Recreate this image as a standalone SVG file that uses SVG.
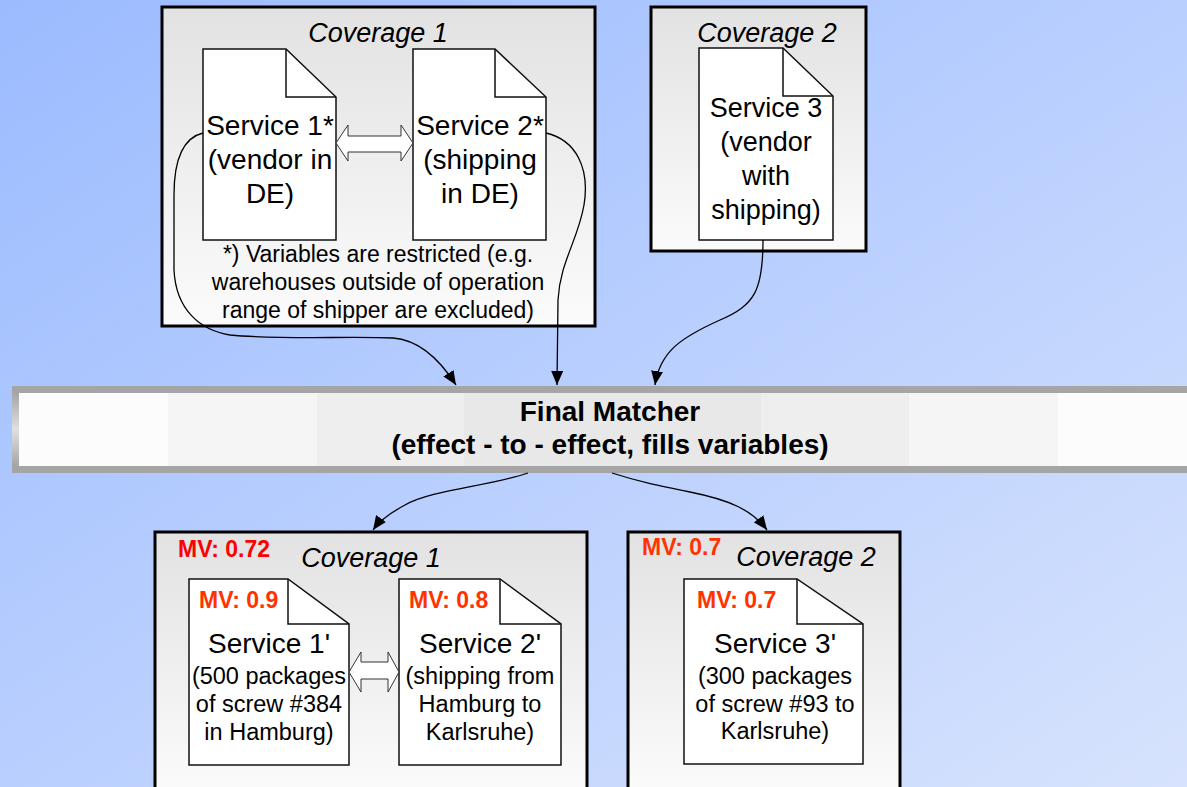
<svg xmlns="http://www.w3.org/2000/svg" width="1187" height="787" viewBox="0 0 1187 787">
<defs>
<linearGradient id="bg" x1="0" y1="0" x2="1" y2="1">
<stop offset="0" stop-color="#9bbbff"/>
<stop offset="1" stop-color="#d7e3fd"/>
</linearGradient>
<linearGradient id="box" x1="0" y1="0" x2="0" y2="1">
<stop offset="0" stop-color="#e2e2e2"/>
<stop offset="1" stop-color="#fbfbfb"/>
</linearGradient>
<linearGradient id="boxb" x1="0" y1="0" x2="0" y2="1">
<stop offset="0" stop-color="#e2e2e2"/>
<stop offset="1" stop-color="#fcfcfc"/>
</linearGradient>
<linearGradient id="edge" x1="0" y1="0" x2="0" y2="1">
<stop offset="0" stop-color="#a5a5a5"/>
<stop offset="0.5" stop-color="#e0e0e0"/>
<stop offset="1" stop-color="#a5a5a5"/>
</linearGradient>
<marker id="ahb" viewBox="0 0 14 12" refX="14" refY="6" markerWidth="14" markerHeight="12" markerUnits="userSpaceOnUse" orient="auto">
<path d="M0,0 L14,6 L0,12 z" fill="#000"/>
</marker>
</defs>
<style>
text{font-family:"Liberation Sans",Arial,sans-serif;fill:#000}
.cov{fill:url(#box);stroke:#000;stroke-width:3}
.covb{fill:url(#boxb);stroke:#000;stroke-width:3}
.doc{fill:#fff;stroke:#111;stroke-width:1.5}
.fold{fill:none;stroke:#111;stroke-width:1.5}
.title{font-size:27px;font-style:italic;text-anchor:middle}
.svc{font-size:27px;text-anchor:middle}
.svcw{font-size:28px;text-anchor:middle}
.svc2{font-size:28px;text-anchor:middle}
.det{font-size:23.5px;text-anchor:middle}
.note{font-size:23px;text-anchor:middle}
.mv{font-size:23px;font-weight:bold;fill:#ff3300}
.mvr{font-size:23px;font-weight:bold;fill:#ff0000}
.mt{font-size:28px;font-weight:bold;text-anchor:middle}
.con{fill:none;stroke:#000;stroke-width:1.3}
.dbl{fill:#fff;stroke:#333;stroke-width:1}
</style>
<rect x="0" y="0" width="1187" height="787" fill="url(#bg)"/>

<g id="coverage1-top">
<rect class="cov" x="162" y="7" width="433" height="319"/>
<text class="title" x="378" y="42">Coverage 1</text>
<text class="note" x="378" y="262">*) Variables are restricted (e.g.</text>
<text class="note" x="378" y="290">warehouses outside of operation</text>
<text class="note" x="378" y="318">range of shipper are excluded)</text>
</g>
<g id="service1">
<path class="doc" d="M203,49 H286 L336,97 V240 H203 Z"/>
<path class="fold" d="M286,49 V97 H336"/>
<text class="svcw" x="270" y="135">Service 1*</text>
<text class="svcw" x="270" y="169">(vendor in</text>
<text class="svcw" x="270" y="203">DE)</text>
</g>
<g id="service2">
<path class="doc" d="M413,49 H495 L546,97 V240 H413 Z"/>
<path class="fold" d="M495,49 V97 H546"/>
<text class="svcw" x="480" y="135">Service 2*</text>
<text class="svcw" x="480" y="169">(shipping</text>
<text class="svcw" x="480" y="203">in DE)</text>
</g>
<g id="coverage2-top">
<rect class="cov" x="651" y="7" width="215" height="244"/>
<text class="title" x="767" y="42">Coverage 2</text>
</g>
<g id="service3">
<path class="doc" d="M699,48 H783 L833,96 V240 H699 Z"/>
<path class="fold" d="M783,48 V96 H833"/>
<text class="svc" x="766" y="117">Service 3</text>
<text class="svc" x="766" y="151">(vendor</text>
<text class="svc" x="766" y="185">with</text>
<text class="svc" x="766" y="219">shipping)</text>
</g>

<g id="final-matcher">
<rect x="12" y="386" width="1180" height="87" fill="#a5a5a5"/>
<rect x="12" y="393" width="7" height="73" fill="url(#edge)"/>
<rect x="19" y="393" width="1168" height="73" fill="#fcfcfc"/>
<rect x="168" y="393" width="890" height="73" fill="#f5f5f5"/>
<rect x="317" y="393" width="592" height="73" fill="#eeeeee"/>
<rect x="464" y="393" width="297" height="73" fill="#e8e8e8"/>
<text class="mt" x="610" y="421">Final Matcher</text>
<text class="mt" x="610" y="454">(effect - to - effect, fills variables)</text>
</g>

<g id="coverage1-bottom">
<rect class="covb" x="155" y="532" width="432" height="270"/>
<text class="mvr" x="178" y="557">MV: 0.72</text>
<text class="title" x="371" y="567">Coverage 1</text>
</g>
<g id="service1p">
<path class="doc" d="M189,579 H288 L349,624 V765 H189 Z"/>
<path class="fold" d="M288,579 V624 H349"/>
<text class="mv" x="199" y="608">MV: 0.9</text>
<text class="svc2" x="269" y="653">Service 1'</text>
<text class="det" x="269" y="684">(500 packages</text>
<text class="det" x="269" y="712">of screw #384</text>
<text class="det" x="269" y="740">in Hamburg)</text>
</g>
<g id="service2p">
<path class="doc" d="M399,579 H500 L561,624 V765 H399 Z"/>
<path class="fold" d="M500,579 V624 H561"/>
<text class="mv" x="409" y="608">MV: 0.8</text>
<text class="svc2" x="480" y="653">Service 2'</text>
<text class="det" x="480" y="684">(shipping from</text>
<text class="det" x="480" y="712">Hamburg to</text>
<text class="det" x="480" y="740">Karlsruhe)</text>
</g>
<g id="coverage2-bottom">
<rect class="covb" x="628" y="532" width="272" height="270"/>
<text class="mv" x="642" y="555">MV: 0.7</text>
<text class="title" x="806" y="566">Coverage 2</text>
</g>
<g id="service3p">
<path class="doc" d="M684,579 H797 L863,624 V764 H684 Z"/>
<path class="fold" d="M797,579 V624 H863"/>
<text class="mv" x="697" y="608">MV: 0.7</text>
<text class="svc2" x="775" y="653">Service 3'</text>
<text class="det" x="775" y="684">(300 packages</text>
<text class="det" x="775" y="712">of screw #93 to</text>
<text class="det" x="775" y="739">Karlsruhe)</text>
</g>

<g id="connectors">
<path class="dbl" d="M336,143 L348,125 V136 H401 V125 L413,143 L401,161 V152 H348 V161 Z"/>
<path class="dbl" d="M349,672 L361,652 V662 H388 V652 L399,672 L388,692 V679 H361 V692 Z"/>
<path class="con" marker-end="url(#ahb)" d="M203,133 C182,138 174,160 174,195 L174,270 C176,310 200,330 230,335 C280,340 350,336 393,338 C420,340 440,360 456,385"/>
<path class="con" marker-end="url(#ahb)" d="M546,133 C576,140 590,168 584,205 C578,240 560,262 558,300 L557,385"/>
<path class="con" marker-end="url(#ahb)" d="M763,240 C763,290 755,305 720,320 C680,338 660,352 655,385"/>
<path class="con" marker-end="url(#ahb)" d="M528,473 C490,486 430,490 405,505 C390,513 380,520 373,530"/>
<path class="con" marker-end="url(#ahb)" d="M612,473 C640,482 660,486 690,492 C730,500 752,510 767,530"/>
</g>
</svg>
